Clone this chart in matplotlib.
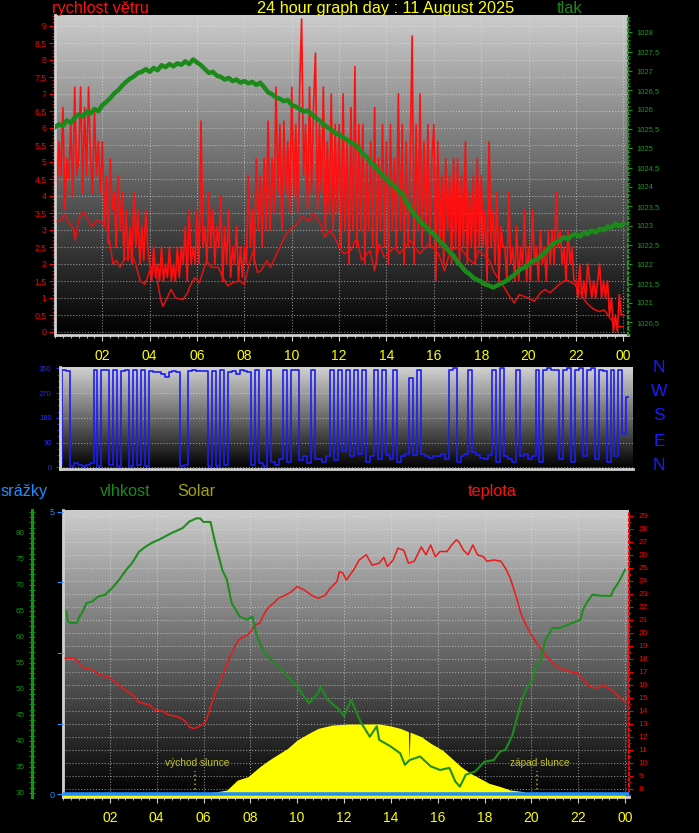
import matplotlib.pyplot as plt
from matplotlib.ticker import MultipleLocator, FuncFormatter
import numpy as np

plt.rcParams['font.family'] = ['Liberation Sans', 'DejaVu Sans']

# ---- data -----------------------------------------------------------
# wind gusts, 5 minute samples from 00:00 (one row per hour)
gust = [
    6.1, 4.1, 5.6, 4.6, 6.6, 3.6, 5.1, 4.5, 6.1, 4.0, 7.2, 4.6,
    5.1, 7.2, 4.1, 6.6, 4.6, 7.2, 5.1, 4.1, 6.5, 4.6, 5.6, 4.1,
    5.6, 3.1, 4.6, 2.6, 5.1, 3.6, 4.1, 2.5, 4.6, 3.0, 4.1, 2.1,
    3.6, 2.1, 3.1, 2.0, 4.1, 2.5, 3.6, 2.0, 3.1, 2.1, 3.6, 2.5,
    2.0, 1.5, 2.5, 1.6, 2.0, 1.5, 2.5, 1.5, 2.0, 1.6, 2.5, 1.5,
    2.0, 1.5, 2.5, 1.6, 2.5, 2.0, 3.1, 1.5, 3.6, 2.0, 2.5, 2.0,
    3.6, 2.0, 6.2, 2.5, 3.1, 2.0, 4.1, 2.5, 3.6, 2.0, 3.1, 2.5,
    4.0, 1.5, 3.1, 2.0, 3.6, 1.6, 2.5, 2.0, 3.1, 1.5, 2.5, 1.6,
    2.5, 2.0, 4.6, 2.5, 3.6, 2.0, 5.1, 3.0, 4.6, 2.5, 5.1, 3.0,
    6.2, 3.0, 5.1, 3.5, 7.2, 4.1, 6.1, 3.0, 6.2, 4.1, 5.6, 3.5,
    7.2, 4.0, 6.1, 3.5, 7.2, 9.2, 4.6, 6.1, 3.6, 7.2, 4.1, 6.6,
    8.2, 3.6, 6.1, 4.1, 7.2, 3.0, 5.6, 3.5, 7.0, 3.0, 6.1, 3.5,
    6.1, 2.5, 7.0, 3.0, 5.6, 2.0, 6.6, 3.0, 7.8, 2.5, 6.1, 3.0,
    6.1, 2.0, 5.1, 3.0, 5.6, 2.5, 6.6, 2.0, 5.1, 3.0, 6.1, 2.5,
    5.6, 2.0, 6.1, 3.0, 5.1, 2.5, 7.0, 3.0, 6.1, 2.0, 5.6, 2.5,
    5.1, 8.7, 2.0, 6.1, 3.0, 7.0, 2.5, 5.6, 3.0, 6.1, 2.5, 5.1,
    6.1, 1.5, 5.6, 2.5, 4.6, 2.0, 5.1, 3.0, 4.6, 2.0, 5.1, 2.5,
    5.1, 2.0, 4.6, 2.5, 5.6, 2.0, 4.1, 2.5, 4.6, 2.0, 5.1, 2.5,
    4.6, 2.5, 3.6, 1.5, 5.6, 2.5, 3.6, 2.0, 4.1, 1.5, 3.1, 2.5,
    2.5, 1.5, 4.1, 2.0, 2.5, 1.5, 3.1, 1.5, 2.5, 2.0, 3.6, 1.5,
    2.5, 1.5, 3.6, 2.0, 2.5, 1.5, 3.0, 2.0, 2.5, 1.5, 3.0, 2.0,
    3.0, 2.0, 4.1, 2.5, 3.0, 2.0, 2.5, 1.5, 3.0, 2.0, 2.5, 1.5,
    1.5, 1.0, 2.0, 1.0, 1.5, 1.0, 2.0, 1.5, 1.0, 1.5, 1.0, 1.5,
    2.0, 1.0, 1.5, 1.0, 1.5, 0.5, 1.0, 0.0, 0.5, 0.0, 1.1, 0.5,
    0.5]

# average wind speed
avg_t = [0.1, 0.25, 0.4, 0.6, 0.8, 0.85, 1.0, 1.2, 1.56, 1.8, 2.0, 2.2, 2.3, 2.45, 2.6, 2.75,
         2.9, 3.05, 3.3, 3.4, 3.6, 3.8, 4.0, 4.15, 4.3, 4.45, 4.55, 4.7, 4.9, 5.1, 5.4, 5.6,
         5.7, 5.9, 6.1, 6.4, 6.6, 6.9, 7.05, 7.3, 7.5, 7.8, 8.0, 8.2, 8.35, 8.55, 8.7, 8.95,
         9.1, 9.3, 9.5, 9.7, 9.9, 10.2, 10.45, 10.75, 10.9, 11.2, 11.4, 11.6, 11.8, 12.0, 12.2,
         12.5, 12.75, 12.95, 13.3, 13.5, 13.7, 13.9, 14.35, 14.55, 15.0, 15.4, 15.8, 16.2,
         16.45, 16.7, 17.1, 17.4, 17.7, 17.9, 18.35, 18.55, 18.8, 19.2, 19.4, 19.6, 20.0,
         20.25, 20.5, 20.7, 20.9, 21.3, 21.5, 21.7, 21.95, 22.15, 22.4, 22.6, 22.8, 23.0,
         23.2, 23.4, 23.6, 23.8, 24.0]
avg_speed = [3.25, 3.3, 3.45, 3.2, 3.05, 2.7, 3.3, 3.55, 3.1, 3.3, 3.2, 3.05, 2.7, 2.0, 2.1, 1.9,
             2.1, 2.2, 2.2, 2.0, 1.5, 1.4, 1.8, 1.95, 1.6, 1.0, 0.75, 0.95, 1.25, 1.0, 0.95, 1.15,
             1.35, 1.6, 1.45, 2.1, 1.9, 1.9, 1.65, 1.35, 1.45, 1.5, 1.4, 2.0, 2.35, 1.75, 1.8, 2.1,
             1.9, 2.2, 2.5, 2.8, 3.0, 3.15, 3.4, 3.25, 3.5, 3.2, 2.8, 3.0, 2.8, 2.5, 2.3,
             2.4, 2.8, 2.1, 2.4, 1.8, 2.6, 2.2, 2.5, 2.3, 2.7, 2.3, 2.6, 2.3,
             1.8, 2.4, 2.5, 2.2, 2.0, 2.4, 2.1, 1.75, 1.5, 1.05, 0.85, 1.1, 1.0,
             0.9, 1.15, 1.25, 1.15, 1.4, 1.5, 1.5, 1.4, 1.2, 0.9, 0.75, 0.65, 0.6,
             0.65, 0.45, 0.25, 0.15, 0.15]

# pressure, 10 minute samples
pressure = [
    1025.55, 1025.62, 1025.58, 1025.72, 1025.66, 1025.80,
    1025.88, 1025.82, 1025.95, 1025.90, 1026.02, 1025.96,
    1026.12, 1026.20, 1026.30, 1026.42, 1026.50, 1026.62,
    1026.72, 1026.80, 1026.86, 1026.95, 1026.98, 1027.05,
    1026.98, 1027.08, 1027.02, 1027.15, 1027.10, 1027.18,
    1027.12, 1027.20, 1027.16, 1027.25, 1027.18, 1027.30,
    1027.22, 1027.15, 1027.05, 1026.95, 1026.98, 1026.88,
    1026.85, 1026.78, 1026.82, 1026.74, 1026.78, 1026.70,
    1026.74, 1026.68, 1026.72, 1026.64, 1026.70, 1026.58,
    1026.45, 1026.40, 1026.32, 1026.28, 1026.22, 1026.25,
    1026.12, 1026.08, 1026.02, 1025.95, 1025.98, 1025.88,
    1025.80, 1025.72, 1025.62, 1025.55, 1025.48, 1025.40,
    1025.35, 1025.28, 1025.22, 1025.15, 1025.10, 1025.00,
    1024.85, 1024.78, 1024.62, 1024.55, 1024.42, 1024.30,
    1024.20, 1024.10, 1024.02, 1023.90, 1023.82, 1023.62,
    1023.45, 1023.30, 1023.18, 1023.05, 1022.98, 1022.85,
    1022.78, 1022.65, 1022.55, 1022.45, 1022.32, 1022.22,
    1022.05, 1021.95, 1021.82, 1021.75, 1021.65, 1021.60,
    1021.55, 1021.48, 1021.45, 1021.40, 1021.45, 1021.50,
    1021.55, 1021.62, 1021.70, 1021.78, 1021.88, 1021.92,
    1022.00, 1022.08, 1022.12, 1022.20, 1022.28, 1022.40,
    1022.50, 1022.58, 1022.62, 1022.70, 1022.65, 1022.75,
    1022.78, 1022.72, 1022.82, 1022.78, 1022.88, 1022.82,
    1022.92, 1022.88, 1022.98, 1022.95, 1023.05, 1022.98,
    1023.05]

# wind direction, 10 minute samples
direction = [
    10, 355, 350, 5, 15, 10,
    5, 10, 15, 355, 5, 355,
    355, 10, 355, 5, 350, 355,
    5, 355, 10, 355, 5, 350,
    345, 345, 340, 330, 345, 350,
    345, 5, 10, 350, 355, 350,
    350, 350, 5, 350, 5, 355,
    10, 345, 350, 340, 355, 350,
    345, 10, 355, 15, 5, 355,
    20, 10, 30, 355, 20, 355,
    355, 25, 40, 15, 355, 30,
    30, 20, 40, 355, 25, 355,
    60, 355, 40, 355, 50, 355,
    20, 40, 355, 30, 355, 45,
    30, 355, 20, 40, 50, 325,
    45, 355, 50, 40, 35, 40,
    40, 50, 30, 355, 360, 20,
    40, 50, 355, 55, 45, 35,
    30, 45, 355, 20, 360, 40,
    30, 20, 355, 40, 50, 30,
    40, 355, 20, 355, 360, 355,
    355, 30, 355, 360, 20, 355,
    360, 40, 355, 360, 30, 355,
    350, 20, 355, 40, 355, 120,
    255]

# humidity (%)
hum_t = [0.15, 0.2, 0.3, 0.6, 0.7, 0.85, 1.0, 1.25, 1.5, 1.8, 2.1, 2.4, 2.7, 2.95, 3.25, 3.55,
         3.8, 4.1, 4.65, 5.1, 5.4, 5.7, 5.85, 6.0, 6.3, 6.5, 6.8, 7.0, 7.2, 7.55, 7.85, 8.1,
         8.25, 8.4, 8.6, 9.2, 9.6, 10.0, 10.5, 10.9, 11.0, 11.3, 11.8, 12.0, 12.3, 12.7, 13.1,
         13.4, 13.5, 14.0, 14.4, 14.6, 14.8, 15.25, 15.7, 16.1, 16.5, 16.75, 16.95, 17.2, 17.6,
         18.0, 18.4, 18.65, 18.9, 19.2, 19.4, 19.6, 19.8, 20.05, 20.2, 20.4, 20.6, 20.9, 21.2,
         21.7, 22.1, 22.2, 22.4, 22.6, 23.0, 23.4, 23.5, 23.7, 23.85, 24.0]
humidity = [64.9, 63.0, 62.7, 62.7, 63.9, 64.9, 66.5, 66.8, 67.75, 68.1, 69.4, 71.0, 72.9, 74.2,
            76.4, 77.4, 78.1, 78.7, 80.0, 80.9, 82.2, 82.8, 82.8, 82.1, 82.1, 78.1, 72.9, 71.0,
            66.5, 63.9, 63.3, 63.9, 60.7, 58.8, 56.9, 54.3, 52.4, 50.4, 47.2, 49.2, 50.4, 47.9,
            46.0, 44.7, 47.9, 43.7, 40.8, 42.8, 40.2, 38.9, 37.6, 35.4, 36.3, 37.0, 35.1, 34.4,
            34.8, 32.2, 31.2, 33.5, 34.1, 36.0, 36.3, 37.9, 38.3, 41.2, 44.7, 47.9, 50.1, 51.7,
            54.3, 55.6, 59.4, 61.7, 61.7, 62.6, 63.3, 65.2, 66.8, 68.1, 67.9, 67.9, 69.0, 70.3,
            71.6, 72.9]

# temperature (C)
temp_t = [0.1, 0.5, 0.7, 0.9, 1.3, 1.5, 1.95, 2.2, 2.6, 3.0, 3.2, 3.7, 3.9, 4.3, 4.5, 4.9, 5.2,
          5.4, 5.6, 5.8, 6.0, 6.1, 6.3, 6.5, 6.7, 6.9, 7.1, 7.35, 7.5, 7.7, 7.9, 8.05, 8.2, 8.4,
          8.6, 8.75, 9.0, 9.2, 9.5, 9.75, 9.9, 10.0, 10.3, 10.6, 10.9, 11.2, 11.4, 11.7, 11.8,
          11.95, 12.1, 12.2, 12.45, 12.65, 12.95, 13.2, 13.5, 13.7, 13.85, 14.1, 14.3, 14.55,
          14.75, 15.0, 15.3, 15.5, 15.7, 15.9, 16.1, 16.4, 16.6, 16.8, 16.9, 17.1, 17.3, 17.5,
          17.7, 17.95, 18.1, 18.4, 18.7, 18.9, 19.1, 19.35, 19.55, 19.8, 20.05, 20.4, 20.6,
          20.8, 21.1, 21.4, 21.7, 22.0, 22.2, 22.5, 22.8, 23.1, 23.2, 23.5, 23.8, 24.0]
temperature = [18.05, 18.05, 17.65, 17.3, 17.15, 16.8, 16.6, 16.25, 15.7, 15.2, 14.7, 14.45, 14.1,
               13.95, 13.7, 13.55, 13.25, 12.75, 12.65, 12.8, 13.0, 13.2, 14.3, 15.35, 16.25,
               17.1, 18.05, 19.0, 19.45, 19.7, 19.85, 20.2, 20.6, 20.75, 21.5, 21.9, 22.3, 22.65,
               22.9, 23.15, 23.4, 23.55, 23.3, 22.9, 22.65, 22.9, 23.4, 23.95, 24.7, 24.6, 24.05,
               24.3, 24.95, 25.6, 26.0, 25.2, 25.35, 25.8, 25.1, 25.6, 26.5, 26.35, 25.35, 25.5,
               26.6, 26.0, 26.75, 25.85, 26.25, 26.25, 26.75, 27.15, 27.0, 26.35, 26.0, 26.75,
               26.0, 25.85, 25.5, 25.6, 25.5, 24.95, 24.2, 22.8, 21.5, 20.5, 19.7, 18.8, 18.3,
               17.9, 17.4, 17.15, 17.0, 16.9, 16.4, 15.85, 15.75, 16.0, 15.85, 15.5, 15.0, 14.7]

# solar radiation (W/m2)
solar_t = [0, 5.95, 6.0, 6.5, 7.0, 7.45, 7.9, 8.4, 8.8, 9.6, 10.0, 10.5, 10.9, 11.5, 12.2, 13.5,
           14.0, 14.4, 14.75, 14.78, 14.82, 15.3, 15.7, 16.2, 16.6, 17.0, 17.4, 17.8, 18.2, 18.7,
           19.1, 19.7, 19.8, 24]
solar = [0, 0, 10, 22, 45, 156, 193, 304, 379, 510, 602, 677, 732, 769, 780, 781, 758, 732, 695,
         379, 690, 639, 565, 490, 398, 304, 231, 175, 119, 81, 45, 26, 0, 0]

# rain (mm)
rain_t = [0, 24.2]
rain = [0, 0]

sunrise, sunset = 5.63, 20.23
hour_ticks = list(range(2, 25, 2))
hour_labels = ['%02d' % (h % 24) for h in hour_ticks]
compass = ['N', 'W', 'S', 'E', 'N']

# ---- layout ---------------------------------------------------------
W, H = 699, 833


def rect(x0, y0, x1, y1):
    return [x0 / W, 1 - y1 / H, (x1 - x0) / W, (y1 - y0) / H]


def backdrop(ax, top=0.8):
    ax.imshow(np.linspace(0, top, 256).reshape(-1, 1), cmap='gray', vmin=0, vmax=1,
              aspect='auto', origin='lower', extent=[0, 1, 0, 1],
              transform=ax.transAxes, zorder=0)


def hide(ax):
    for s in ax.spines.values():
        s.set_visible(False)


comma = FuncFormatter(lambda v, p: ('%g' % v).replace('.', ','))
edge = '#d0d0d0'
gridkw = dict(color='#e8e8e8', linestyle=':', linewidth=0.8, alpha=0.55)

fig = plt.figure(figsize=(W / 100, H / 100), dpi=100, facecolor='black')

# ---- top panel: wind speed + pressure ------------------------------
ax1 = fig.add_axes(rect(55, 15, 628, 335))
backdrop(ax1, 0.8)
t5 = np.arange(len(gust)) / 12.0
t10 = np.arange(len(pressure)) / 6.0
ax1.plot(t5, gust, color='#ff1010', lw=1.2, zorder=2)
ax1.plot(avg_t, avg_speed, color='#e81010', lw=1.1, zorder=3)
ax1.set_xlim(0, 24.2)
ax1.set_ylim(-0.09, 9.32)

ax1p = ax1.twinx()
ax1p.plot(t10, pressure, color='#1b8a1b', lw=3.2, zorder=4)
ax1p.set_ylim(1020.17, 1028.45)

ax1.yaxis.tick_left()
ax1.set_yticks(np.arange(0, 9.01, 0.5))
ax1.yaxis.set_major_formatter(comma)
ax1.yaxis.set_minor_locator(MultipleLocator(0.1))
ax1.tick_params(axis='y', which='both', colors='red', labelsize=6.3)
ax1.tick_params(axis='y', which='major', length=4, pad=2)
ax1.tick_params(axis='y', which='minor', length=2.5)
ax1.set_xticks(hour_ticks)
ax1.set_xticklabels(hour_labels)
ax1.xaxis.set_minor_locator(MultipleLocator(1 / 3))
ax1.tick_params(axis='x', which='both', colors=edge, labelcolor='yellow', labelsize=10)
ax1.tick_params(axis='x', which='major', length=4, pad=6)
ax1.tick_params(axis='x', which='minor', length=2)
ax1.grid(True, **gridkw)
for s in ['top', 'right']:
    ax1.spines[s].set_visible(False)
for s in ['left', 'bottom']:
    ax1.spines[s].set_color(edge)
    ax1.spines[s].set_linewidth(2)

ax1p.yaxis.tick_right()
ax1p.set_yticks(np.arange(1020.5, 1028.01, 0.5))
ax1p.yaxis.set_major_formatter(comma)
ax1p.yaxis.set_minor_locator(MultipleLocator(0.1))
ax1p.tick_params(axis='y', which='both', colors='#1a9a1a', labelsize=5.5)
ax1p.tick_params(axis='y', which='major', length=3, pad=3)
ax1p.tick_params(axis='y', which='minor', length=1.5)
hide(ax1p)
ax1p.spines['right'].set_visible(True)
ax1p.spines['right'].set_color('#1a9a1a')
ax1p.spines['right'].set_linestyle(':')
ax1p.spines['right'].set_linewidth(1.5)

# ---- middle panel: wind direction ----------------------------------
ax2 = fig.add_axes(rect(60, 367, 633, 469))
backdrop(ax2, 0.82)
ax2.plot(t10, direction, drawstyle='steps-mid', color='#1c1cf5', lw=1.2, zorder=2)
ax2.set_xlim(0, 24.2)
ax2.set_ylim(-6, 365)
ax2.set_yticks([0, 90, 180, 270, 360])
ax2.yaxis.set_minor_locator(MultipleLocator(22.5))
ax2.tick_params(axis='y', which='both', colors='#2a2aff', labelsize=5.5)
ax2.tick_params(axis='y', which='major', length=3, pad=3)
ax2.tick_params(axis='y', which='minor', length=2)
ax2.set_xticks([])
ax2.grid(True, axis='y', **gridkw)
for s in ['top', 'right']:
    ax2.spines[s].set_visible(False)
for s in ['left', 'bottom']:
    ax2.spines[s].set_color(edge)
    ax2.spines[s].set_linewidth(2)
for ypix, c in zip([367, 392, 416, 442, 466], compass):
    fig.text(659 / W, 1 - ypix / H, c, color='#1a1aff', fontsize=12.5, ha='center', va='center')

# ---- bottom panel: temperature, humidity, solar, rain --------------
ax3 = fig.add_axes(rect(63, 510, 629, 797))
backdrop(ax3, 0.8)
ax3.set_xlim(0, 24.17)
ax3.set_ylim(7.38, 29.44)
ax3.plot(temp_t, temperature, color='#ee1818', lw=1.1, zorder=3)

sax = ax3.twinx()
rax = ax3.twinx()
hax = ax3.twinx()

ax3.yaxis.tick_right()
ax3.set_yticks(range(8, 30))
ax3.yaxis.set_minor_locator(MultipleLocator(0.5))
ax3.tick_params(axis='y', which='both', colors='red', labelsize=6)
ax3.tick_params(axis='y', which='major', length=3, pad=4)
ax3.tick_params(axis='y', which='minor', length=1.5)
ax3.set_xticks(hour_ticks)
ax3.set_xticklabels(hour_labels)
ax3.xaxis.set_minor_locator(MultipleLocator(1 / 3))
ax3.tick_params(axis='x', which='both', colors=edge, labelcolor='yellow', labelsize=10)
ax3.tick_params(axis='x', which='major', length=4, pad=6)
ax3.tick_params(axis='x', which='minor', length=2)
ax3.grid(True, **gridkw)
ax3.spines['top'].set_visible(False)
for s in ['left', 'bottom']:
    ax3.spines[s].set_color(edge)
    ax3.spines[s].set_linewidth(2)
ax3.spines['right'].set_color('red')
ax3.spines['right'].set_linestyle(':')
ax3.spines['right'].set_linewidth(1.5)

sax.set_ylim(-33, 3165)
sax.fill_between(solar_t, solar, -33, color='#ffff00', lw=0)
sax.set_yticks([])
hide(sax)
for t, name, tx in [(sunrise, 'východ slunce', sunrise + 0.1), (sunset, 'západ slunce', sunset + 0.12)]:
    sax.vlines(t, 0, 260, colors='#9a9a20', linestyles=':', lw=1.2)
    sax.text(tx, 345, name, color='#c0c030', fontsize=7.3, ha='center', va='center')

rax.plot(rain_t, rain, color='#1e90ff', lw=2.6)
rax.set_ylim(-0.053, 5.035)
rax.yaxis.tick_left()
rax.set_yticks([0, 1.25, 2.5, 3.75, 5])
rax.set_yticklabels(['0', '', '', '', '5'])
rax.tick_params(axis='y', colors='#1e90ff', labelsize=6.5, length=4, pad=2)
hide(rax)

hax.plot(hum_t, humidity, color='#1f8c1f', lw=1.5)
hax.set_ylim(29.2, 84.4)
hide(hax)
hax.spines['left'].set_visible(True)
hax.spines['left'].set_position(('axes', -31 / 566))
hax.spines['left'].set_color('#129612')
hax.spines['left'].set_linewidth(2.2)
hax.yaxis.tick_left()
hax.set_yticks(range(30, 81, 5))
hax.yaxis.set_minor_locator(MultipleLocator(1))
hax.tick_params(axis='y', which='both', colors='#129612', labelsize=5.8, direction='inout')
hax.tick_params(axis='y', which='major', length=5, pad=3)
hax.tick_params(axis='y', which='minor', length=4)

# ---- headers --------------------------------------------------------
hfs = 11.7


def header(x, y, s, c):
    fig.text(x / W, 1 - y / H, s, color=c, fontsize=hfs, ha='left', va='baseline')


header(52, 13, 'rychlost větru', '#ff1010')
header(257, 13, '24 hour graph day : 11 August 2025', '#ffff00')
header(557, 13, 'tlak', '#1a8a1a')
header(1, 496, 'srážky', '#1e90ff')
header(100, 496, 'vlhkost', '#1a8a1a')
header(177, 496, 'Solar', '#a0a010')
header(468, 496, 'teplota', '#ff1010')

fig.savefig('out.png', dpi=100, facecolor='black')
